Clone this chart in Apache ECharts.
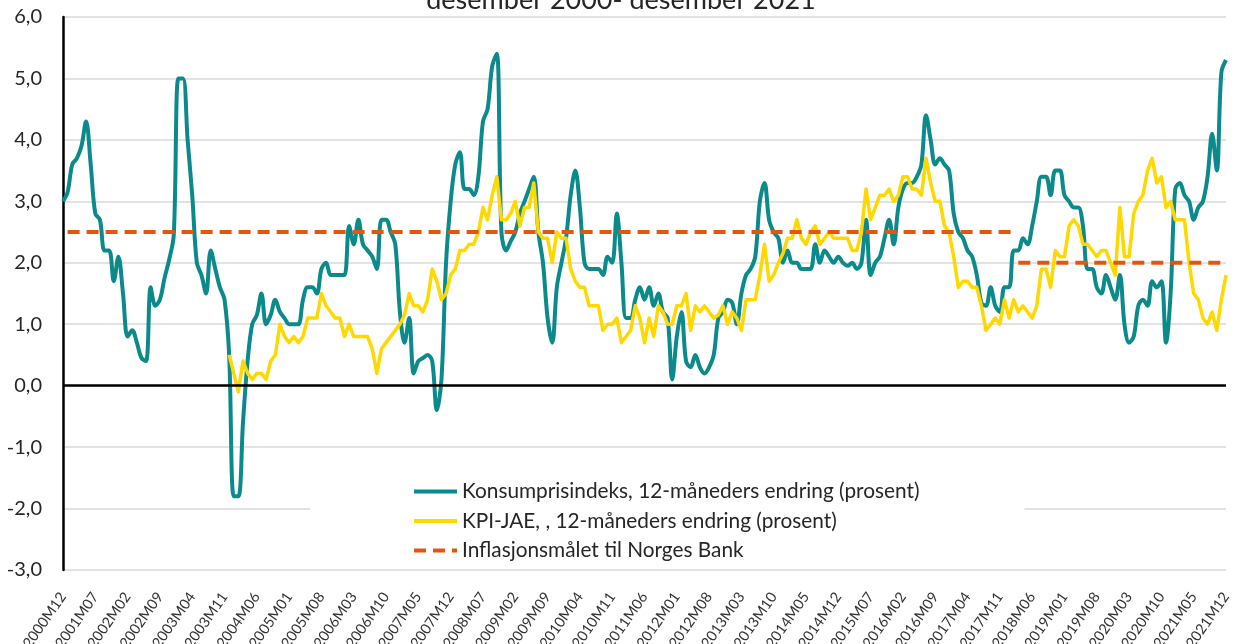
<!DOCTYPE html>
<html>
<head>
<meta charset="utf-8">
<script src="https://cdn.jsdelivr.net/npm/echarts@6/dist/echarts.min.js"></script>
<style>
html,body{margin:0;padding:0;background:#fff;}
#chart{width:1242px;height:644px;}
</style>
</head>
<body>
<div id="chart"></div>
<script>
// ---- Data ----
const firstMonth = [2000, 12];
const lastMonth = [2021, 12];
const titleText = 'desember 2000- desember 2021';
const seriesNames = [
  'Konsumprisindeks, 12-måneders endring (prosent)',
  'KPI-JAE, , 12-måneders endring (prosent)',
  'Inflasjonsmålet til Norges Bank'
];
const yTicks = [-3, -2, -1, 0, 1, 2, 3, 4, 5, 6];

// KPI 12-month change, 2000M12 .. 2021M12
const kpi = [
  3.0,
  3.15, 3.6, 3.7, 3.9, 4.3, 3.6, 2.8, 2.7, 2.2, 2.2, 1.7, 2.1,
  1.5, 0.8, 0.9, 0.7, 0.45, 0.4, 1.6, 1.3, 1.4, 1.75, 2.05, 2.45,
  5.0, 5.0, 4.0, 3.1, 2.0, 1.8, 1.5, 2.2, 1.9, 1.6, 1.4, 0.5,
  -1.8, -1.8, -0.6, 0.4, 1.0, 1.15, 1.5, 1.0, 1.15, 1.4, 1.2, 1.1,
  1.0, 1.0, 1.0, 1.4, 1.6, 1.6, 1.5, 1.9, 2.0, 1.8, 1.8, 1.8,
  1.8, 2.6, 2.3, 2.7, 2.3, 2.2, 2.1, 1.9, 2.7, 2.7, 2.5, 2.3,
  1.2, 0.7, 1.1, 0.2, 0.4, 0.45, 0.5, 0.4, -0.4, 0.1, 2.0, 3.0,
  3.6, 3.8, 3.2, 3.2, 3.1, 3.4, 4.3, 4.5, 5.2, 5.4, 2.5, 2.2,
  2.35, 2.5, 2.8, 3.0, 3.2, 3.4, 2.5, 2.0, 1.1, 0.7, 1.6, 2.0,
  2.4, 3.1, 3.5, 2.9, 2.0, 1.9, 1.9, 1.9, 1.8, 2.1, 2.0, 2.8,
  2.0, 1.1, 1.1, 1.4, 1.6, 1.4, 1.6, 1.3, 1.5, 1.2, 1.1, 0.1,
  0.8, 1.2, 0.4, 0.3, 0.5, 0.3, 0.2, 0.3, 0.5, 1.1, 1.2, 1.4,
  1.35, 1.0, 1.5, 1.8, 1.9, 2.1, 3.0, 3.3, 2.7, 2.5, 2.4, 2.0,
  2.2, 2.0, 2.0, 1.9, 1.9, 1.9, 2.3, 2.0, 2.2, 2.1, 2.0, 2.1,
  2.0, 1.95, 2.0, 1.9, 2.0, 2.7, 1.8, 2.0, 2.1, 2.4, 2.7, 2.3,
  2.9, 3.2, 3.3, 3.3, 3.4, 3.6, 4.4, 4.0, 3.6, 3.7, 3.6, 3.5,
  2.8, 2.5, 2.4, 2.2, 2.1, 1.8, 1.35, 1.3, 1.6, 1.3, 1.2, 1.6,
  1.6, 2.2, 2.2, 2.4, 2.3, 2.6, 3.0, 3.4, 3.4, 3.1, 3.5, 3.5,
  3.1, 3.0, 2.9, 2.9, 2.6, 1.9, 1.9, 1.6, 1.5, 1.8, 1.6, 1.4,
  1.8, 1.0, 0.7, 0.8, 1.3, 1.4, 1.3, 1.7, 1.6, 1.7, 0.7, 1.5,
  3.2, 3.3, 3.1, 3.0, 2.7, 2.9, 3.0, 3.4, 4.1, 3.5, 5.1, 5.3
];

// KPI-JAE 12-month change, 2003M12 .. 2021M12
const jaeStart = '2003M12';
const kpiJae = [
  0.5,
  0.2, -0.1, 0.4, 0.2, 0.1, 0.2, 0.2, 0.1, 0.4, 0.5, 1.0, 0.8,
  0.7, 0.8, 0.7, 0.8, 1.1, 1.1, 1.1, 1.5, 1.3, 1.2, 1.1, 1.1,
  0.8, 1.0, 0.8, 0.8, 0.8, 0.8, 0.6, 0.2, 0.6, 0.7, 0.8, 0.9,
  1.0, 1.15, 1.5, 1.3, 1.3, 1.2, 1.4, 1.9, 1.7, 1.4, 1.5, 1.8,
  1.9, 2.2, 2.2, 2.3, 2.3, 2.5, 2.9, 2.7, 3.1, 3.4, 2.7, 2.7,
  2.8, 3.0, 2.6, 2.9, 2.9, 3.3, 2.5, 2.4, 2.4, 2.0, 2.5, 2.4,
  2.4, 1.9, 1.7, 1.6, 1.6, 1.3, 1.3, 1.3, 0.9, 1.0, 1.0, 1.1,
  0.7, 0.8, 0.9, 1.3, 1.1, 0.7, 1.1, 0.8, 1.3, 1.2, 1.0, 1.0,
  1.3, 1.3, 1.5, 0.9, 1.3, 1.2, 1.3, 1.2, 1.1, 1.15, 1.3, 1.0,
  1.2, 1.1, 0.9, 1.4, 1.4, 1.4, 1.8, 2.3, 1.7, 1.8, 2.0, 2.15,
  2.4, 2.4, 2.7, 2.4, 2.3, 2.5, 2.6, 2.3, 2.4, 2.5, 2.4, 2.4,
  2.4, 2.4, 2.2, 2.2, 2.5, 3.2, 2.7, 2.9, 3.1, 3.1, 3.2, 3.0,
  3.1, 3.4, 3.4, 3.2, 3.2, 3.1, 3.7, 3.3, 3.0, 3.0, 2.6, 2.5,
  2.1, 1.6, 1.7, 1.7, 1.6, 1.6, 1.3, 0.9, 1.0, 1.1, 1.0, 1.4,
  1.1, 1.4, 1.2, 1.3, 1.2, 1.1, 1.3, 1.9, 1.9, 1.6, 2.2, 2.1,
  2.1, 2.6, 2.7, 2.6, 2.3, 2.3, 2.2, 2.1, 2.2, 2.2, 2.0, 1.8,
  2.9, 2.1, 2.1, 2.8, 3.0, 3.1, 3.5, 3.7, 3.3, 3.4, 2.9, 3.0,
  2.7, 2.7, 2.7, 2.0, 1.5, 1.4, 1.1, 1.0, 1.2, 0.9, 1.4, 1.8
];

// Inflation target periods: [from, to, value]
const targetPeriods = [
  ['2001M01', '2018M02', 2.5],
  ['2018M03', '2021M12', 2.0]
];

// ---- Build categories ----
const months = [];
{
  let y = firstMonth[0], m = firstMonth[1];
  while (y < lastMonth[0] || (y === lastMonth[0] && m <= lastMonth[1])) {
    months.push(y + 'M' + (m < 10 ? '0' + m : '' + m));
    m++; if (m > 12) { m = 1; y++; }
  }
}
const jaeIdx = months.indexOf(jaeStart);
const jaeData = months.map((_, i) => (i >= jaeIdx ? kpiJae[i - jaeIdx] : null));
const targetSeriesData = targetPeriods.map(([from, to, v]) => {
  const a = months.indexOf(from), b = months.indexOf(to);
  return months.map((_, i) => (i >= a && i <= b ? v : null));
});

const FONT = 'Lato, "Noto Sans", sans-serif';
const TEAL = '#0B8A8C';
const YELLOW = '#FFD800';
const ORANGE = '#E4560E';

const chart = echarts.init(document.getElementById('chart'), null, { renderer: 'canvas' });
chart.setOption({
  animation: false,
  backgroundColor: '#ffffff',
  title: {
    text: titleText,
    left: 'center',
    top: -18,
    textStyle: { fontFamily: FONT, fontSize: 27, fontWeight: 'normal', color: '#262626' }
  },
  grid: { left: 63, right: 16, top: 17, bottom: 74, containLabel: false, outerBoundsMode: 'none' },
  legend: {
    orient: 'vertical',
    left: 310,
    top: 463,
    padding: [18, 105, 8, 102],
    backgroundColor: '#ffffff',
    itemWidth: 43,
    itemHeight: 14,
    itemGap: 8.5,
    itemStyle: { opacity: 0 },
    data: [
      { name: seriesNames[0], lineStyle: { width: 4 } },
      { name: seriesNames[1], lineStyle: { width: 4 } },
      { name: seriesNames[2], lineStyle: { width: 4 } }
    ],
    textStyle: { fontFamily: FONT, fontSize: 20.8, color: '#262626', lineHeight: 20 }
  },
  xAxis: {
    type: 'category',
    data: months,
    boundaryGap: false,
    axisLine: { show: false },
    axisTick: { show: false },
    splitLine: { show: false },
    axisLabel: {
      interval: 6,
      rotate: 55,
      margin: 24,
      fontFamily: FONT,
      fontSize: 14.5,
      color: '#333333'
    }
  },
  yAxis: {
    type: 'value',
    min: yTicks[0],
    max: yTicks[yTicks.length - 1],
    interval: 1,
    axisLine: { show: true, lineStyle: { color: '#000000', width: 2.5 } },
    axisTick: { show: false },
    axisLabel: {
      margin: 21,
      fontFamily: FONT,
      fontSize: 20,
      color: '#262626',
      formatter: v => v.toFixed(1).replace('.', ',')
    },
    splitLine: { lineStyle: { color: '#D9D9D9', width: 1.5 } }
  },
  series: [
    {
      name: '_zero',
      type: 'line',
      data: [],
      z: 1,
      silent: true,
      markLine: {
        silent: true,
        symbol: ['none', 'none'],
        label: { show: false },
        lineStyle: { color: '#000000', width: 2.5, type: 'solid' },
        data: [{ yAxis: 0 }]
      }
    },
    {
      name: seriesNames[0],
      type: 'line',
      data: kpi,
      smooth: 0.35,
      showSymbol: false,
      symbol: 'none',
      z: 3,
      lineStyle: { color: TEAL, width: 4, join: 'round' },
      itemStyle: { color: TEAL }
    },
    {
      name: seriesNames[1],
      type: 'line',
      data: jaeData,
      smooth: false,
      showSymbol: false,
      symbol: 'none',
      z: 4,
      lineStyle: { color: YELLOW, width: 3.5, join: 'round' },
      itemStyle: { color: YELLOW }
    },
    {
      name: seriesNames[2],
      type: 'line',
      data: targetSeriesData[0],
      showSymbol: false,
      symbol: 'none',
      z: 5,
      lineStyle: { color: ORANGE, width: 4, type: [12, 7], cap: 'butt' },
      itemStyle: { color: ORANGE }
    },
    {
      name: seriesNames[2],
      type: 'line',
      data: targetSeriesData[1],
      showSymbol: false,
      symbol: 'none',
      z: 5,
      lineStyle: { color: ORANGE, width: 4, type: [12, 7], cap: 'butt' },
      itemStyle: { color: ORANGE }
    }
  ]
});
</script>
</body>
</html>
